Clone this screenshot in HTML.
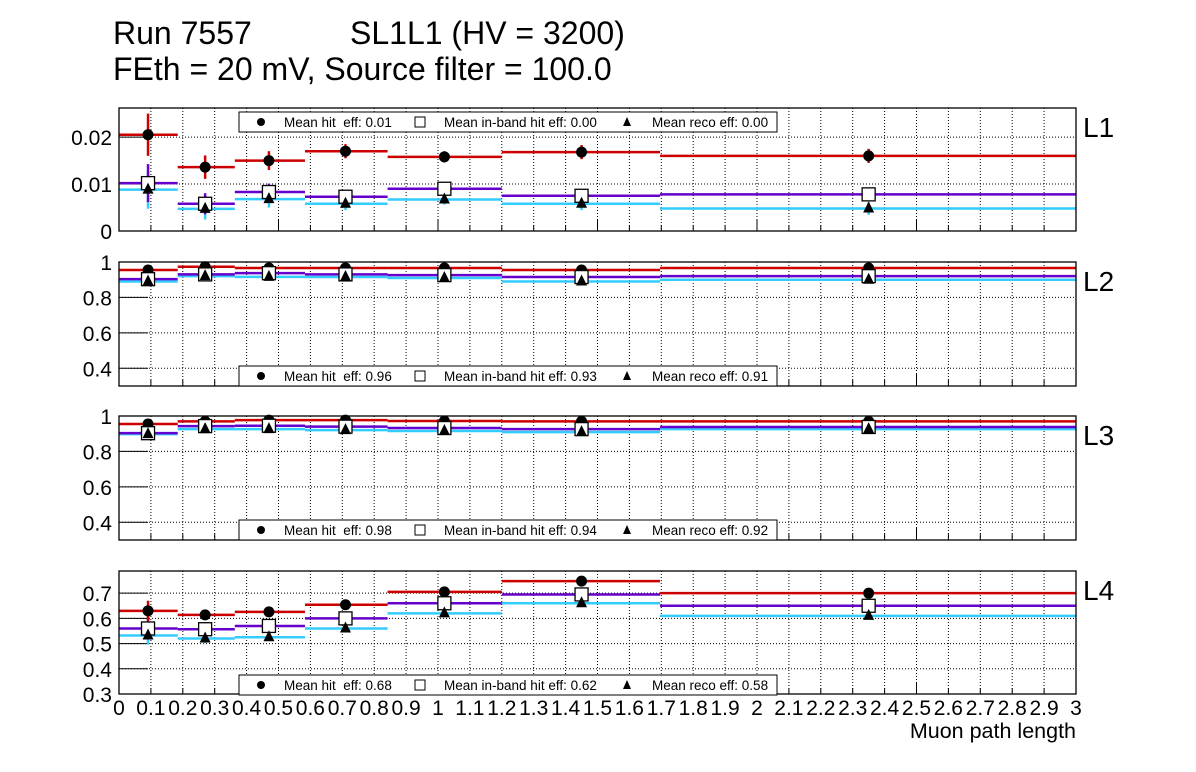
<!DOCTYPE html>
<html><head><meta charset="utf-8"><style>
body{margin:0;background:#fff;}
svg{display:block;font-family:"Liberation Sans",sans-serif;}
text{white-space:pre;}
</style></head><body>
<svg id="c" width="1196" height="772">
<text x="113" y="44" font-size="32">Run 7557</text>
<text x="350" y="44" font-size="32">SL1L1 (HV = 3200)</text>
<text x="113" y="80" font-size="32">FEth = 20 mV, Source filter = 100.0</text>
<text x="1076" y="738" font-size="21.5" text-anchor="end">Muon path length</text>
</svg>
<script>
const binEdges=[0,0.184,0.363,0.583,0.842,1.2,1.696,3.0];
const binCenters=[0.091,0.27,0.47,0.71,1.02,1.45,2.35];
const L1hit=[0.0205,0.0136,0.015,0.0170,0.0158,0.0168,0.0160];
const L1band=[0.0102,0.0058,0.0083,0.0073,0.0090,0.0075,0.0078];
const L1reco=[0.0088,0.0047,0.0068,0.0058,0.0067,0.0058,0.0048];
const L1err=[0.0045,0.0025,0.002,0.0015,0.0012,0.0015,0.0015];
const L2hit=[0.955,0.973,0.966,0.966,0.966,0.955,0.966];
const L2band=[0.903,0.93,0.937,0.93,0.926,0.915,0.92];
const L2reco=[0.89,0.92,0.916,0.915,0.91,0.89,0.90];
const L3hit=[0.955,0.97,0.977,0.977,0.972,0.97,0.97];
const L3band=[0.903,0.943,0.945,0.94,0.932,0.926,0.938];
const L3reco=[0.898,0.926,0.926,0.92,0.915,0.909,0.926];
const L4hit=[0.63,0.614,0.626,0.654,0.705,0.748,0.70];
const L4band=[0.56,0.557,0.57,0.60,0.66,0.695,0.65];
const L4reco=[0.532,0.52,0.525,0.56,0.62,0.66,0.61];
const legendL1=["0.01","0.00","0.00"];
const legendL2=["0.96","0.93","0.91"];
const legendL3=["0.98","0.94","0.92"];
const legendL4=["0.68","0.62","0.58"];

const svg=document.getElementById('c');
const NS='http://www.w3.org/2000/svg';
function mk(t,a,p){const e=document.createElementNS(NS,t);for(const k in a)e.setAttribute(k,a[k]);(p||svg).appendChild(e);return e;}
const X0=119,X1=1076;
const xs=v=>X0+(X1-X0)*v/3;
const panels=[
 {name:'L1',top:108,bot:231,ymin:0,ymax:0.0262,ticks:[0,0.01,0.02],tl:['0','0.01','0.02'],hit:L1hit,band:L1band,reco:L1reco,err:L1err,leg:legendL1,legY:112},
 {name:'L2',top:262,bot:386,ymin:0.3,ymax:1.0,ticks:[0.4,0.6,0.8,1.0],tl:['0.4','0.6','0.8','1'],hit:L2hit,band:L2band,reco:L2reco,err:[0.01,0.008,0.008,0.008,0.008,0.008,0.008],leg:legendL2,legY:366},
 {name:'L3',top:416,bot:540,ymin:0.3,ymax:1.0,ticks:[0.4,0.6,0.8,1.0],tl:['0.4','0.6','0.8','1'],hit:L3hit,band:L3band,reco:L3reco,err:[0.01,0.008,0.008,0.008,0.008,0.008,0.008],leg:legendL3,legY:520},
 {name:'L4',top:571,bot:694,ymin:0.3,ymax:0.788,ticks:[0.3,0.4,0.5,0.6,0.7],tl:['0.3','0.4','0.5','0.6','0.7'],hit:L4hit,band:L4band,reco:L4reco,err:[0.04,0.02,0.015,0.01,0.01,0.01,0.015],leg:legendL4,legY:675}
];
panels.forEach((p,pi)=>{
 const g=mk('g',{});
 
 
 const ys=v=>p.bot-(p.bot-p.top)*(v-p.ymin)/(p.ymax-p.ymin);
 for(let i=1;i<30;i++){mk('line',{x1:xs(i/10),x2:xs(i/10),y1:p.top,y2:p.bot,stroke:'#000','stroke-width':1,'stroke-dasharray':'1,2'},g);}
 p.ticks.forEach((t,i)=>{const y=ys(t);
  if(y>p.top+1&&y<p.bot-1)mk('line',{x1:X0,x2:X1,y1:y,y2:y,stroke:'#000','stroke-dasharray':'1,2'},g);
  mk('line',{x1:X0,x2:X0+29,y1:y,y2:y,stroke:'#000'},g);
  const tx=mk('text',{x:112,y:y+8,'font-size':21,'text-anchor':'end'},g);tx.textContent=p.tl[i];
  
  
 });
 for(let i=0;i<=30;i++){const x=xs(i/10);const L=(i%5==0)?12:6;mk('line',{x1:x,x2:x,y1:p.bot,y2:p.bot-L,stroke:'#000'},g);}
 const ser=[[p.reco,'#33ccff','tri'],[p.band,'#6600cc','sq'],[p.hit,'#cc0000','circ']];
 ser.forEach(([arr,col,m])=>{
  arr.forEach((v,i)=>{const y=ys(v);
   const s=mk('line',{x1:xs(binEdges[i]),x2:xs(binEdges[i+1]),y1:y,y2:y,stroke:col,'stroke-width':2.5},g);
   
   
   const e=p.err[i]*(m=='circ'?1:0.9);const cx=xs(binCenters[i]);
   mk('line',{x1:cx,x2:cx,y1:Math.max(p.top,ys(v+e)),y2:Math.min(p.bot,ys(v-e)),stroke:col,'stroke-width':2.5},g);
  });
 });
 ser.slice().reverse().forEach(([arr,col,m])=>{
  arr.forEach((v,i)=>{const y=ys(v),cx=xs(binCenters[i]);let mm;
   if(m=='circ')mm=mk('circle',{cx:cx,cy:y,r:5.5,fill:'#000'},g);
   else if(m=='sq')mm=mk('rect',{x:cx-6.5,y:y-6.5,width:13,height:13,fill:'#fff',stroke:'#000','stroke-width':1.3},g);
   else mm=mk('polygon',{points:`${cx},${y-7} ${cx-5.5},${y+4} ${cx+5.5},${y+4}`,fill:'#000'},g);
   
   
  });
 });
 mk('rect',{x:X0,y:p.top,width:X1-X0,height:p.bot-p.top,fill:'none',stroke:'#000','stroke-width':1.3},g);
 const lg=mk('g',{},g);
 
 
 const ly=p.legY;
 mk('rect',{x:239,y:ly,width:538,height:20,fill:'#fff',stroke:'#000'},lg);
 mk('circle',{cx:261,cy:ly+10,r:4,fill:'#000'},lg);
 let t=mk('text',{x:284,y:ly+15,'font-size':13.5},lg);t.textContent='Mean hit  eff: '+p.leg[0];
 mk('rect',{x:415,y:ly+5,width:10,height:10,fill:'#fff',stroke:'#000'},lg);
 t=mk('text',{x:444,y:ly+15,'font-size':13.5},lg);t.textContent='Mean in-band hit eff: '+p.leg[1];
 mk('polygon',{points:`627,${ly+5} 623,${ly+14} 631,${ly+14}`,fill:'#000'},lg);
 t=mk('text',{x:652,y:ly+15,'font-size':13.5},lg);t.textContent='Mean reco eff: '+p.leg[2];
 const lab=mk('text',{x:1083,y:p.top+29,'font-size':28},g);lab.textContent=p.name;
 
 
});
for(let i=0;i<=30;i++){const v=i/10;const t=mk('text',{x:xs(v),y:715,'font-size':21,'text-anchor':'middle'});
 t.textContent=(i%10==0)?String(i/10):v.toFixed(1);
 
 }
</script>
</body></html>
